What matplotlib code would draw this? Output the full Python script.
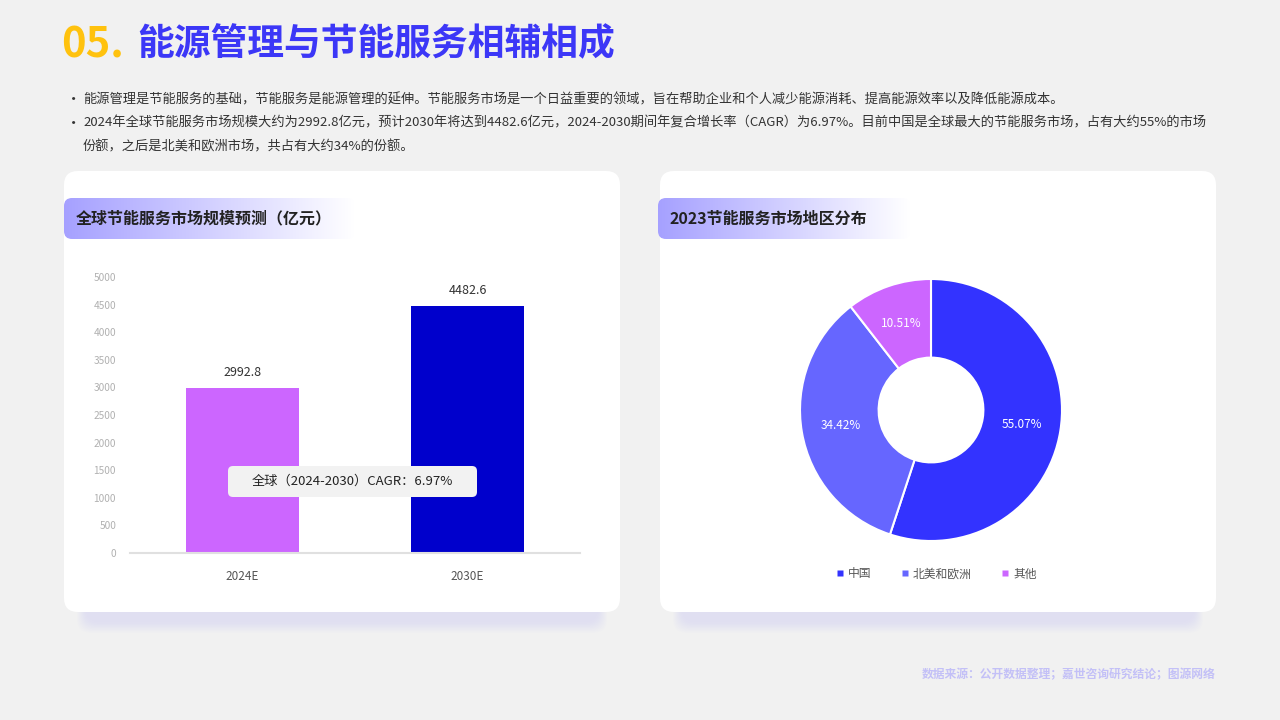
import numpy as np
import matplotlib
matplotlib.use("Agg")
import matplotlib.pyplot as plt
from matplotlib.patches import FancyBboxPatch
from matplotlib.lines import Line2D

plt.rcParams["font.family"] = ["Noto Sans CJK SC", "DejaVu Sans"]

# ---------------- data ----------------
bar_cats = ["2024E", "2030E"]
bar_vals = [2992.8, 4482.6]
bar_colors = ["#cc66ff", "#0000cc"]
y_ticks = [0, 500, 1000, 1500, 2000, 2500, 3000, 3500, 4000, 4500, 5000]

pie_labels = ["中国", "北美和欧洲", "其他"]
pie_vals = [55.07, 34.42, 10.51]
pie_colors = ["#3333ff", "#6666ff", "#cc66ff"]

title_num = "05."
title_txt = "能源管理与节能服务相辅相成"
bullets = [
    "能源管理是节能服务的基础，节能服务是能源管理的延伸。节能服务市场是一个日益重要的领域，旨在帮助企业和个人减少能源消耗、提高能源效率以及降低能源成本。",
    "2024年全球节能服务市场规模大约为2992.8亿元，预计2030年将达到4482.6亿元，2024-2030期间年复合增长率（CAGR）为6.97%。目前中国是全球最大的节能服务市场，占有大约55%的市场",
    "份额，之后是北美和欧洲市场，共占有大约34%的份额。",
]
left_title = "全球节能服务市场规模预测（亿元）"
right_title = "2023节能服务市场地区分布"
cagr_note = "全球（2024-2030）CAGR：6.97%"
source = "数据来源：公开数据整理；嘉世咨询研究结论；图源网络"

W, H = 1280, 720
fig = plt.figure(figsize=(12.8, 7.2), dpi=100, facecolor="#f1f1f1")

# background canvas in pixel coordinates
bg = fig.add_axes([0, 0, 1, 1], zorder=0)
bg.set_xlim(0, W)
bg.set_ylim(H, 0)
bg.axis("off")


def card(x0, y0, x1, y1):
    # soft shadow
    for i in range(10):
        sh = FancyBboxPatch((x0 + 22 - i, y0 + 10 + i * 1.2), (x1 - x0) - 44 + 2 * i, (y1 - y0),
                            boxstyle="round,pad=0,rounding_size=14",
                            fc="#c4c2f2", ec="none", alpha=0.03)
        bg.add_patch(sh)
    bg.add_patch(FancyBboxPatch((x0, y0), x1 - x0, y1 - y0,
                                boxstyle="round,pad=0,rounding_size=14",
                                fc="white", ec="none"))


def header(x0, y0, x1, y1, text):
    grad = np.linspace(0, 1, 256)
    c0 = np.array([0.65, 0.63, 1.0])
    c1 = np.array([1.0, 1.0, 1.0])
    img = (c0[None, :] * (1 - grad[:, None]) + c1[None, :] * grad[:, None])[None, :, :]
    im = bg.imshow(img, extent=(x0, x1, y1, y0), aspect="auto", zorder=2)
    clip = FancyBboxPatch((x0, y0), x1 - x0, y1 - y0,
                          boxstyle="round,pad=0,rounding_size=8",
                          fc="none", ec="none", transform=bg.transData)
    bg.add_patch(clip)
    im.set_clip_path(clip)
    bg.text(x0 + 12, (y0 + y1) / 2, text, fontsize=11.5, fontweight="bold",
            color="#222222", va="center", ha="left", zorder=3)


card(64, 171, 620, 612)
card(660, 171, 1216, 612)
bg.set_xlim(0, W)
bg.set_ylim(H, 0)
header(64, 198, 355, 239, left_title)
header(658, 198, 910, 239, right_title)

# title
bg.text(61, 45, title_num, fontsize=30, fontweight="heavy", color="#ffc20e", va="center", ha="left")
bg.text(137, 45, title_txt, fontsize=26.5, fontweight="heavy", color="#3c37f7", va="center", ha="left")

# bullets
for y, t, dot in zip([100, 123, 147], bullets, [True, True, False]):
    if dot:
        bg.text(66, y, "•", fontsize=11, color="#333333", va="center", ha="left")
    bg.text(83, y, t, fontsize=9.5, color="#333333", va="center", ha="left")

# source
bg.text(1216, 675, source, fontsize=8.5, fontweight="bold", color="#c3c0f7", va="center", ha="right")

# ---------------- bar chart ----------------
ax = fig.add_axes([130 / W, 1 - 553 / H, 450 / W, 276 / H], zorder=5)
ax.patch.set_alpha(0)
x = np.arange(len(bar_cats))
bars = ax.bar(x, bar_vals, width=0.5, color=bar_colors)
ax.set_xlim(-0.5, 1.5)
ax.set_ylim(0, 5000)
ax.set_yticks(y_ticks)
ax.set_yticklabels([str(v) for v in y_ticks], fontsize=7.3, color="#b0b0b0")
ax.set_xticks(x)
ax.set_xticklabels(bar_cats, fontsize=8.5, color="#555555")
ax.tick_params(length=0, pad=10)
ax.tick_params(axis="x", pad=12)
for s in ["top", "right", "left"]:
    ax.spines[s].set_visible(False)
ax.spines["bottom"].set_color("#e0e0e0")
ax.spines["bottom"].set_linewidth(1.5)
for b, v in zip(bars, bar_vals):
    ax.text(b.get_x() + b.get_width() / 2, v + 270, f"{v:.1f}", ha="center", va="center",
            fontsize=9, color="#333333")

# CAGR note on top of the bar axes
note_ax = fig.add_axes([0, 0, 1, 1], zorder=8)
note_ax.set_xlim(0, W)
note_ax.set_ylim(H, 0)
note_ax.axis("off")
note_ax.add_patch(FancyBboxPatch((228, 466), 249, 31, boxstyle="round,pad=0,rounding_size=5",
                                 fc="#f2f2f2", ec="none"))
note_ax.text(352.5, 481.5, cagr_note, fontsize=9.5, color="#222222", ha="center", va="center")

# ---------------- donut chart ----------------
R = 131
side = 300
pax = fig.add_axes([(931 - side / 2) / W, (H - 410 - side / 2) / H, side / W, side / H], zorder=5)
pax.patch.set_alpha(0)
wedges, _, autotexts = pax.pie(pie_vals, colors=pie_colors, startangle=90, counterclock=False,
                               radius=1, autopct=lambda p: f"{p:.2f}%", pctdistance=0.7,
                               wedgeprops=dict(width=0.6, edgecolor="white", linewidth=1.5),
                               textprops=dict(color="white", fontsize=8.5))
L = (side / 2) / R
pax.set_xlim(-L, L)
pax.set_ylim(-L, L)
pax.set_aspect("equal")

handles = [Line2D([0], [0], marker="s", linestyle="none", markersize=5,
                  markerfacecolor=c, markeredgecolor="none") for c in pie_colors]
fig.legend(handles, pie_labels, loc="center", bbox_to_anchor=(936 / W, 1 - 574 / H),
           ncol=3, frameon=False, fontsize=8.5, labelcolor="#555555",
           handletextpad=0.3, columnspacing=2.4, handlelength=0.8)

fig.savefig("out.png", dpi=100, facecolor=fig.get_facecolor())
